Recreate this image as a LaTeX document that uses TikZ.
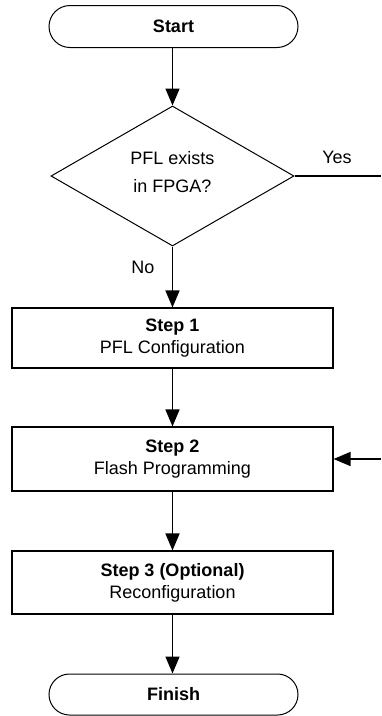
\documentclass[tikz,border=0pt]{standalone}
\usepackage{fontspec}
\setmainfont{Liberation Sans}
\usetikzlibrary{shapes.geometric,shapes.misc,arrows.meta}
\begin{document}
\begin{tikzpicture}[x=1pt,y=-1pt,
  every node/.style={font=\fontsize{18}{22}\selectfont, text=black},
  term/.style={draw, rounded rectangle, line width=1pt, minimum width=249pt, minimum height=42pt, inner sep=0pt},
  stepbox/.style={draw, rectangle, line width=1.1pt, minimum width=321pt, inner sep=0pt, align=center},
  decision/.style={draw, diamond, line width=1pt, minimum width=243pt, minimum height=140pt, inner sep=0pt, align=center, font=\fontsize{18}{28}\selectfont},
  flow/.style={line width=1.5pt, -{Triangle[length=17pt,width=14pt]}},
  plain/.style={line width=1.2pt}
]
\useasboundingbox (0,0) rectangle (381,716);
\node[term] (start) at (173.5,26.5) {\textbf{Start}};
\node[decision] (dec) at (172.5,176) {PFL exists\\in FPGA?\rule[-8pt]{0pt}{8pt}};
\node[stepbox, minimum height=60pt] (s1) at (172.5,338) {\textbf{Step 1}\\PFL Configuration};
\node[stepbox, minimum height=64pt] (s2) at (172.5,459) {\textbf{Step 2}\\Flash Programming};
\node[stepbox, minimum height=63pt] (s3) at (172.5,582.5) {\textbf{Step 3 (Optional)}\\Reconfiguration};
\node[term, minimum height=41pt] (fin) at (173.5,694.5) {\textbf{Finish}};
\coordinate (yesend) at (381,176);
\coordinate (retstart) at (381,459);
\node (yes) at (337,157) {Yes};
\node (no) at (143,267) {No};
\draw[flow] (start.south -| dec.north) -- (dec.north);
\draw[flow] (dec.south) -- (s1.north);
\draw[flow] (s1.south) -- (s2.north);
\draw[flow] (s2.south) -- (s3.north);
\draw[flow] (s3.south) -- (s3.south |- fin.north);
\draw[plain] (dec.east) -- (yesend);
\draw[flow] (retstart) -- (s2.east);
\end{tikzpicture}
\end{document}
